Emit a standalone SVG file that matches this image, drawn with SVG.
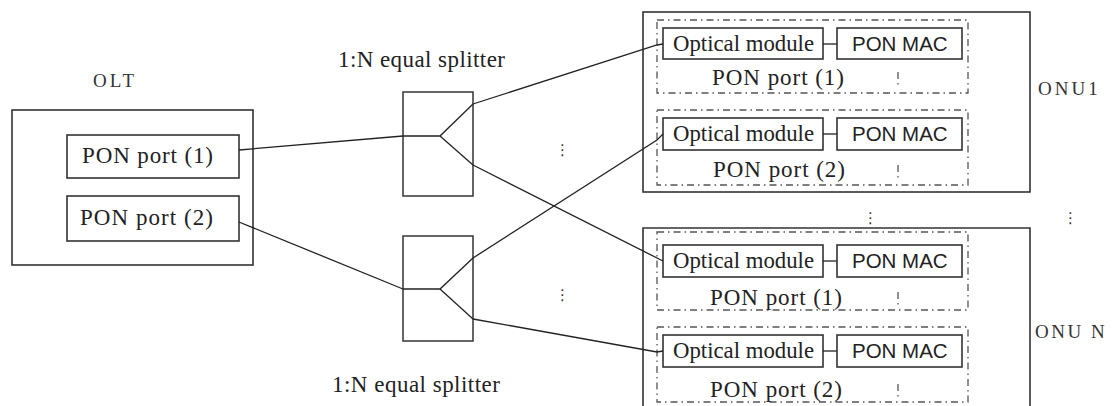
<svg xmlns="http://www.w3.org/2000/svg" width="1112" height="406" viewBox="0 0 1112 406">
<style>
.box{fill:none;stroke:#333;stroke-width:1.6}
.sbox{fill:none;stroke:#333;stroke-width:1.5}
.dash{fill:none;stroke:#555;stroke-width:1.3;stroke-dasharray:7,4,1.5,4}
.ln{fill:none;stroke:#222;stroke-width:1.3}
.serif{font-family:"Liberation Serif","Times New Roman",serif;font-size:23px;fill:#222}
.sans{font-family:"Liberation Sans",Arial,sans-serif;font-size:20.5px;fill:#222}
.lbl{font-family:"Liberation Serif","Times New Roman",serif;font-size:19px;fill:#333;letter-spacing:3px}
.dots{font-family:"DejaVu Sans",sans-serif;font-size:15px;fill:#333}
</style>
<rect width="1112" height="406" fill="#fff"/>

<g id="olt">
  <text class="lbl" x="93" y="87">OLT</text>
  <rect class="box" x="12" y="110" width="241" height="155"/>
  <rect class="box" x="67" y="135" width="172" height="43"/>
  <text class="serif" x="82" y="163" textLength="131" lengthAdjust="spacing">PON port (1)</text>
  <rect class="box" x="67" y="196" width="172" height="45"/>
  <text class="serif" x="80" y="225" textLength="133" lengthAdjust="spacing">PON port (2)</text>
</g>

<g id="splitter1">
  <text class="serif" x="338" y="67" textLength="167" lengthAdjust="spacing">1:N equal splitter</text>
  <rect class="sbox" x="403" y="92" width="70" height="104"/>
  <polyline class="ln" points="403,136 440,136 473,104"/>
  <polyline class="ln" points="440,136 473,165"/>
</g>

<g id="splitter2">
  <rect class="sbox" x="403" y="236" width="70" height="105"/>
  <polyline class="ln" points="403,289 440,289 473,258"/>
  <polyline class="ln" points="440,289 473,319"/>
  <text class="serif" x="332" y="392" textLength="168" lengthAdjust="spacing">1:N equal splitter</text>
</g>

<g id="onu1">
  <rect class="box" x="643" y="12" width="387" height="180"/>
  <text class="lbl" x="1038" y="95">ONU1</text>
  <rect class="dash" x="657" y="20" width="311" height="73"/>
  <rect class="box" x="663" y="28" width="160" height="31"/>
  <text class="serif" x="673" y="51" textLength="141" lengthAdjust="spacingAndGlyphs">Optical module</text>
  <line class="ln" x1="823" y1="44" x2="837" y2="44"/>
  <rect class="box" x="837" y="28" width="125" height="31"/>
  <text class="sans" x="852" y="51">PON MAC</text>
  <text class="serif" x="712" y="85" textLength="132" lengthAdjust="spacing">PON port (1)</text>
  <line class="dash" x1="898" y1="72" x2="898" y2="86"/>
  <rect class="dash" x="657" y="110" width="311" height="75"/>
  <rect class="box" x="663" y="118" width="160" height="32"/>
  <text class="serif" x="673" y="141" textLength="141" lengthAdjust="spacingAndGlyphs">Optical module</text>
  <line class="ln" x1="823" y1="134" x2="837" y2="134"/>
  <rect class="box" x="837" y="118" width="125" height="32"/>
  <text class="sans" x="852" y="141">PON MAC</text>
  <text class="serif" x="713" y="177" textLength="132" lengthAdjust="spacing">PON port (2)</text>
  <line class="dash" x1="898" y1="165" x2="898" y2="178"/>
</g>

<g id="onuN">
  <polyline class="box" points="643,410 643,228 1030,228 1030,410"/>
  <text class="lbl" x="1035" y="338" style="letter-spacing:2.5px">ONU N</text>
  <rect class="dash" x="657" y="232" width="311" height="78"/>
  <rect class="box" x="663" y="245" width="160" height="32"/>
  <text class="serif" x="673" y="268" textLength="141" lengthAdjust="spacingAndGlyphs">Optical module</text>
  <line class="ln" x1="823" y1="261" x2="837" y2="261"/>
  <rect class="box" x="837" y="245" width="125" height="32"/>
  <text class="sans" x="852" y="268">PON MAC</text>
  <text class="serif" x="710" y="305" textLength="132" lengthAdjust="spacing">PON port (1)</text>
  <line class="dash" x1="898" y1="292" x2="898" y2="306"/>
  <rect class="dash" x="657" y="327" width="311" height="75"/>
  <rect class="box" x="663" y="335" width="160" height="32"/>
  <text class="serif" x="673" y="358" textLength="141" lengthAdjust="spacingAndGlyphs">Optical module</text>
  <line class="ln" x1="823" y1="351" x2="837" y2="351"/>
  <rect class="box" x="837" y="335" width="125" height="32"/>
  <text class="sans" x="852" y="358">PON MAC</text>
  <text class="serif" x="710" y="397" textLength="132" lengthAdjust="spacing">PON port (2)</text>
  <line class="dash" x1="898" y1="384" x2="898" y2="398"/>
</g>

<g id="ellipses">
  <text class="dots" x="555" y="155">⋮</text>
  <text class="dots" x="555" y="300">⋮</text>
  <text class="dots" x="863" y="223">⋮</text>
  <text class="dots" x="1063" y="223">⋮</text>
</g>

<g id="connectors">
  <line class="ln" x1="239" y1="150" x2="403" y2="136"/>
  <line class="ln" x1="239" y1="222" x2="403" y2="289"/>
  <polyline class="ln" points="473,104 657,45 663,44"/>
  <polyline class="ln" points="473,165 657,258 663,261"/>
  <polyline class="ln" points="473,258 657,140 663,134"/>
  <polyline class="ln" points="473,319 657,352 663,351"/>
</g>
</svg>
